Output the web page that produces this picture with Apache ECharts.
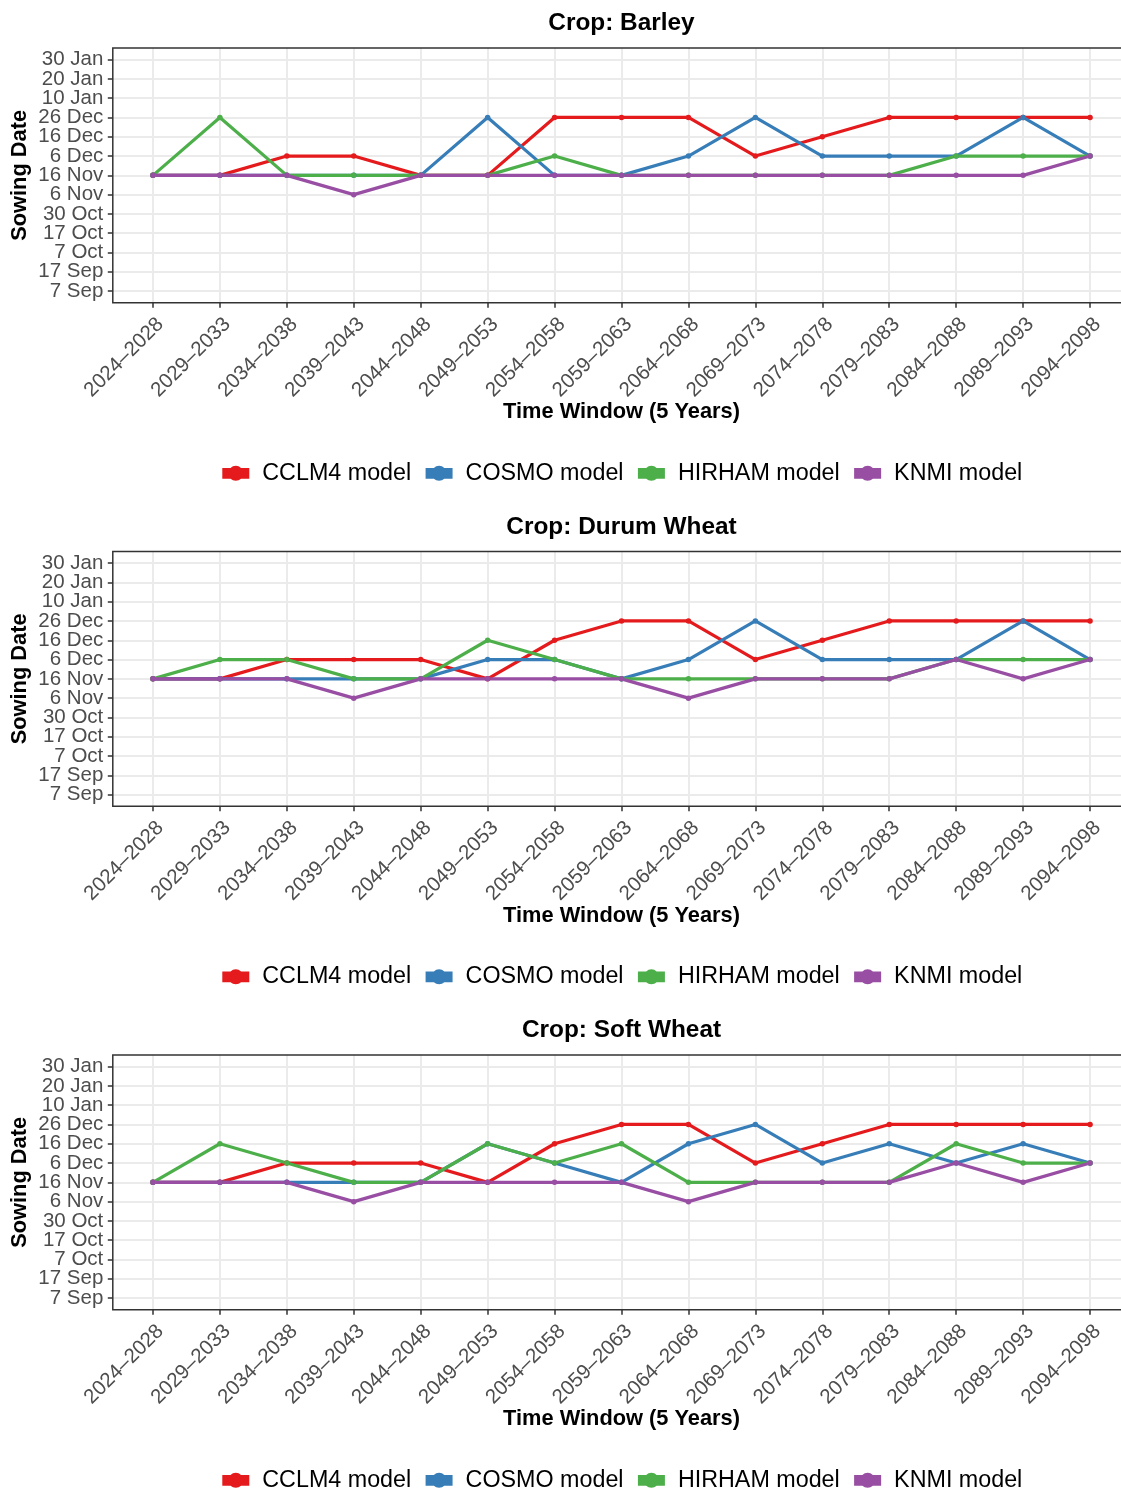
<!DOCTYPE html>
<html>
<head>
<meta charset="utf-8">
<script src="https://cdn.jsdelivr.net/npm/echarts@6/dist/echarts.min.js"></script>
<style>html,body{margin:0;padding:0;background:#fff}#chart{width:1121px;height:1492px}</style>
</head>
<body>
<div id="chart"></div>
<script>
// ---------- data ----------
const timeWindows = ['2024–2028','2029–2033','2034–2038','2039–2043','2044–2048','2049–2053','2054–2058','2059–2063','2064–2068','2069–2073','2074–2078','2079–2083','2084–2088','2089–2093','2094–2098'];
const sowingDates = ['7 Sep','17 Sep','7 Oct','17 Oct','30 Oct','6 Nov','16 Nov','6 Dec','16 Dec','26 Dec','10 Jan','20 Jan','30 Jan'];
const modelNames = ['CCLM4 model','COSMO model','HIRHAM model','KNMI model'];
const cropTitles = ['Crop: Barley','Crop: Durum Wheat','Crop: Soft Wheat'];

const barleyCCLM4  = ['16 Nov','16 Nov','6 Dec','6 Dec','16 Nov','16 Nov','26 Dec','26 Dec','26 Dec','6 Dec','16 Dec','26 Dec','26 Dec','26 Dec','26 Dec'];
const barleyCOSMO  = ['16 Nov','16 Nov','16 Nov','16 Nov','16 Nov','26 Dec','16 Nov','16 Nov','6 Dec','26 Dec','6 Dec','6 Dec','6 Dec','26 Dec','6 Dec'];
const barleyHIRHAM = ['16 Nov','26 Dec','16 Nov','16 Nov','16 Nov','16 Nov','6 Dec','16 Nov','16 Nov','16 Nov','16 Nov','16 Nov','6 Dec','6 Dec','6 Dec'];
const barleyKNMI   = ['16 Nov','16 Nov','16 Nov','6 Nov','16 Nov','16 Nov','16 Nov','16 Nov','16 Nov','16 Nov','16 Nov','16 Nov','16 Nov','16 Nov','6 Dec'];

const durumCCLM4  = ['16 Nov','16 Nov','6 Dec','6 Dec','6 Dec','16 Nov','16 Dec','26 Dec','26 Dec','6 Dec','16 Dec','26 Dec','26 Dec','26 Dec','26 Dec'];
const durumCOSMO  = ['16 Nov','16 Nov','16 Nov','16 Nov','16 Nov','6 Dec','6 Dec','16 Nov','6 Dec','26 Dec','6 Dec','6 Dec','6 Dec','26 Dec','6 Dec'];
const durumHIRHAM = ['16 Nov','6 Dec','6 Dec','16 Nov','16 Nov','16 Dec','6 Dec','16 Nov','16 Nov','16 Nov','16 Nov','16 Nov','6 Dec','6 Dec','6 Dec'];
const durumKNMI   = ['16 Nov','16 Nov','16 Nov','6 Nov','16 Nov','16 Nov','16 Nov','16 Nov','6 Nov','16 Nov','16 Nov','16 Nov','6 Dec','16 Nov','6 Dec'];

const softCCLM4  = ['16 Nov','16 Nov','6 Dec','6 Dec','6 Dec','16 Nov','16 Dec','26 Dec','26 Dec','6 Dec','16 Dec','26 Dec','26 Dec','26 Dec','26 Dec'];
const softCOSMO  = ['16 Nov','16 Nov','16 Nov','16 Nov','16 Nov','16 Dec','6 Dec','16 Nov','16 Dec','26 Dec','6 Dec','16 Dec','6 Dec','16 Dec','6 Dec'];
const softHIRHAM = ['16 Nov','16 Dec','6 Dec','16 Nov','16 Nov','16 Dec','6 Dec','16 Dec','16 Nov','16 Nov','16 Nov','16 Nov','16 Dec','6 Dec','6 Dec'];
const softKNMI   = ['16 Nov','16 Nov','16 Nov','6 Nov','16 Nov','16 Nov','16 Nov','16 Nov','6 Nov','16 Nov','16 Nov','16 Nov','6 Dec','16 Nov','6 Dec'];

const cropSeries = [
  [barleyCCLM4, barleyCOSMO, barleyHIRHAM, barleyKNMI],
  [durumCCLM4, durumCOSMO, durumHIRHAM, durumKNMI],
  [softCCLM4, softCOSMO, softHIRHAM, softKNMI]
];

// ---------- style / layout ----------
const colors = ['#E41A1C', '#377EB8', '#4DAF4A', '#984EA3'];
const FONT = '"Liberation Sans", Arial, Helvetica, sans-serif';
const PANEL_H = 503.5;
const GL = 112.8, GR = 1130.2, GT = 48, GH = 254.7;
const EXP = 0.6;
const xIdx = timeWindows.map((_, i) => i);
const yIdx = sowingDates.map((_, i) => i);
const yEven = yIdx.filter(i => i % 2 === 0);
const yOdd = yIdx.filter(i => i % 2 === 1);
const legendIcon = 'path://M0,2.15L8.24,2.15A7.5,7.5,0,0,1,18.76,2.15L27,2.15L27,12.85L18.76,12.85A7.5,7.5,0,0,1,8.24,12.85L0,12.85Z';

const option = {
  animation: false,
  textStyle: { fontFamily: FONT },
  grid: [], xAxis: [], yAxis: [], series: [], legend: [], graphic: []
};

function yAxisDef(k, labelValues, main) {
  return {
    gridIndex: k, type: 'value', position: 'left', offset: 0,
    min: -EXP, max: sowingDates.length - 1 + EXP, splitNumber: sowingDates.length,
    axisLine: { show: false, onZero: false },
    axisTick: { show: main, customValues: yIdx, length: 5, lineStyle: { color: '#333333', width: 1.5 } },
    axisLabel: {
      customValues: labelValues, showMinLabel: true, showMaxLabel: true, hideOverlap: false,
      formatter: v => sowingDates[Math.round(v)] || '',
      margin: 9.5, fontSize: 20.5, color: '#4D4D4D', fontFamily: FONT
    },
    splitLine: { show: main, lineStyle: { color: '#EBEBEB', width: 2 } }
  };
}

cropSeries.forEach((models, k) => {
  const o = k * PANEL_H;
  option.grid.push({
    left: GL, top: GT + o, width: GR - GL, height: GH,
    containLabel: false, outerBoundsMode: 'none', show: false
  });
  option.xAxis.push({
    gridIndex: k, type: 'value', position: 'bottom',
    min: -EXP, max: timeWindows.length - 1 + EXP, splitNumber: timeWindows.length,
    axisLine: { show: false, onZero: false },
    axisTick: { show: true, customValues: xIdx, length: 5, lineStyle: { color: '#333333', width: 1.5 } },
    axisLabel: {
      customValues: xIdx, showMinLabel: true, showMaxLabel: true, hideOverlap: false,
      formatter: v => timeWindows[Math.round(v)] || '',
      rotate: 45, align: 'right', verticalAlign: 'top', margin: 11, padding: 0,
      fontSize: 20.5, color: '#4D4D4D', fontFamily: FONT
    },
    splitLine: { show: true, lineStyle: { color: '#EBEBEB', width: 2 } }
  });
  // two overlaid left axes (even / odd labels) so no label gets auto-hidden
  option.yAxis.push(yAxisDef(k, yEven, true));
  option.yAxis.push(yAxisDef(k, yOdd, false));
  models.forEach((vals, m) => {
    option.series.push({
      type: 'line', name: modelNames[m], xAxisIndex: k, yAxisIndex: 2 * k,
      data: vals.map((d, i) => [i, sowingDates.indexOf(d)]),
      symbol: 'circle', symbolSize: 5.5, showSymbol: true,
      lineStyle: { color: colors[m], width: 3.2 },
      itemStyle: { color: colors[m] },
      emphasis: { disabled: true }, silent: true
    });
  });
  option.legend.push({
    data: modelNames, orient: 'horizontal',
    left: 222.3, top: 461.8 + o, padding: 0,
    itemWidth: 28, itemHeight: 15, itemGap: 14.4, icon: legendIcon,
    itemStyle: { borderWidth: 0 },
    textStyle: { fontSize: 23.3, color: '#000000', fontFamily: FONT, padding: [0, 0, 0, 7.5] },
    selectedMode: false
  });
  // panel title
  option.graphic.push({
    type: 'text', x: 621.5, y: 23.5 + o, silent: true,
    style: { text: cropTitles[k], fontSize: 24.4, fontWeight: 'bold', fontFamily: FONT, fill: '#000', align: 'center', verticalAlign: 'middle' }
  });
  // x axis title
  option.graphic.push({
    type: 'text', x: 621.5, y: 412 + o, silent: true,
    style: { text: 'Time Window (5 Years)', fontSize: 21.8, fontWeight: 'bold', fontFamily: FONT, fill: '#000', align: 'center', verticalAlign: 'middle' }
  });
  // y axis title
  option.graphic.push({
    type: 'text', x: 20, y: GT + GH / 2 + o, rotation: Math.PI / 2, silent: true,
    style: { text: 'Sowing Date', fontSize: 21.8, fontWeight: 'bold', fontFamily: FONT, fill: '#000', align: 'center', verticalAlign: 'middle' }
  });
  // panel border
  option.graphic.push({
    type: 'rect', silent: true, z: 100,
    shape: { x: GL, y: GT + o, width: GR - GL, height: GH },
    style: { fill: 'none', stroke: '#333333', lineWidth: 1.5 }
  });
});

const chart = echarts.init(document.getElementById('chart'), null, { renderer: 'canvas' });
chart.setOption(option);
</script>
</body>
</html>
